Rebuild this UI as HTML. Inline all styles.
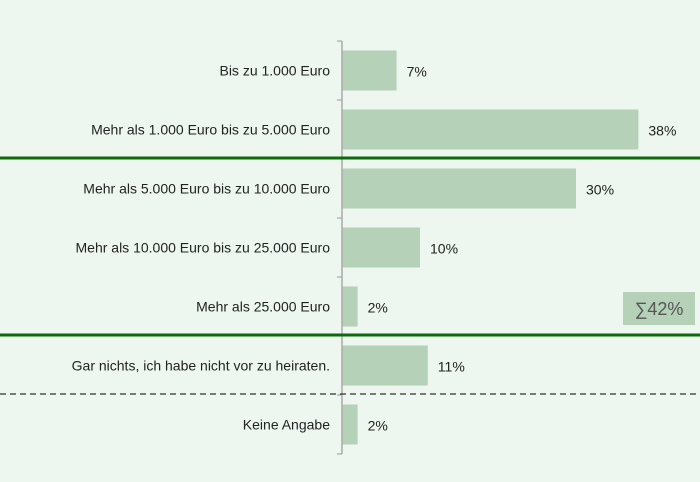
<!DOCTYPE html>
<html><head><meta charset="utf-8"><style>
body{margin:0;background:#edf7ef;}
svg{display:block;font-family:"Liberation Sans",sans-serif;}
</style></head><body>
<svg id="c" width="700" height="482">
<rect width="700" height="482" fill="#edf7ef"/>
</svg>
<script>
const categories=["Bis zu 1.000 Euro","Mehr als 1.000 Euro bis zu 5.000 Euro","Mehr als 5.000 Euro bis zu 10.000 Euro","Mehr als 10.000 Euro bis zu 25.000 Euro","Mehr als 25.000 Euro","Gar nichts, ich habe nicht vor zu heiraten.","Keine Angabe"];
const values=[7,38,30,10,2,11,2];
const valueLabels=["7%","38%","30%","10%","2%","11%","2%"];
const sumLabel="∑42%";
const svgEl=document.getElementById('c');
const NS="http://www.w3.org/2000/svg";
const x0=342, pxPer=7.8, axisTop=41, pitch=59;
const xs=v=>x0+v*pxPer;
const yc=i=>axisTop+pitch*i+pitch/2;
function mk(t,a){const e=document.createElementNS(NS,t);for(const k in a)e.setAttribute(k,a[k]);svgEl.appendChild(e);return e;}
categories.forEach((c,i)=>{
  const b=mk('rect',{x:x0,y:yc(i)-20,width:xs(values[i])-x0,height:40,fill:'#b5d2b8'});
  
  
  const l=mk('text',{x:330,y:yc(i)+5,'text-anchor':'end','font-size':14,fill:'#222'});
  l.textContent=c;
  
  
  const v=mk('text',{x:xs(values[i])+10,y:yc(i)+6,'font-size':14,fill:'#222'});
  v.textContent=valueLabels[i];
  
  
  const t=mk('line',{x1:337,x2:342,y1:axisTop+pitch*i,y2:axisTop+pitch*i,stroke:'#999'});
  
  
});
const ax=mk('line',{x1:342,x2:342,y1:axisTop,y2:axisTop+pitch*7,stroke:'#aaa','stroke-width':1.5});


const bt=mk('line',{x1:337,x2:342,y1:axisTop+pitch*7,y2:axisTop+pitch*7,stroke:'#999'});


[axisTop+pitch*2,axisTop+pitch*5].forEach(y=>{
  const g=mk('line',{x1:0,x2:700,y1:y-1,y2:y-1,stroke:'#0b6a0b','stroke-width':3});
  
  
});
const d=mk('line',{x1:0,x2:700,y1:axisTop+pitch*6-1,y2:axisTop+pitch*6-1,stroke:'#333','stroke-width':1.2,'stroke-dasharray':'6,4'});


const sb=mk('rect',{x:623,y:292,width:72,height:33,fill:'#b5d2b8'});


const st=mk('text',{x:659,y:315,'text-anchor':'middle','font-size':18,fill:'#555'});
st.textContent=sumLabel;


</script>
</body></html>
